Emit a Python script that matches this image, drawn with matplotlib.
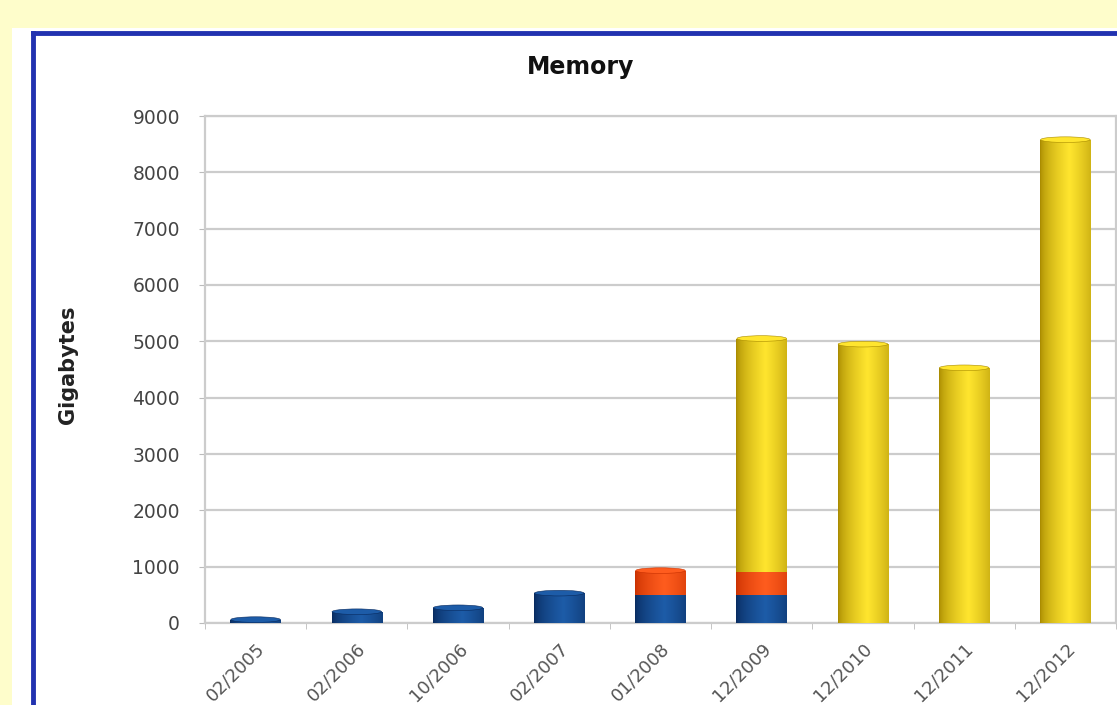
import numpy as np
import matplotlib
matplotlib.use('Agg')
import matplotlib.pyplot as plt
from matplotlib.patches import Rectangle, Ellipse
from matplotlib.colors import to_rgb
from matplotlib.transforms import ScaledTranslation

dates = ['02/2005', '02/2006', '10/2006', '02/2007', '01/2008',
         '12/2009', '12/2010', '12/2011', '12/2012']
blue_vals = [60, 200, 270, 530, 490, 490, 0, 0, 0]
orange_vals = [0, 0, 0, 0, 440, 410, 0, 0, 0]
yellow_vals = [0, 0, 0, 0, 0, 4150, 4950, 4530, 8580]
yticks = [0, 1000, 2000, 3000, 4000, 5000, 6000, 7000, 8000, 9000]

# edge / centre colours for the cylinder shading
shades = {
    'blue': ('#082a5e', '#1d5ca8'),
    'orange': ('#c83000', '#ff5c1e'),
    'yellow': ('#a88a00', '#ffe52e'),
}


def gradient(dark, light, n=64):
    d = np.array(to_rgb(dark))
    l = np.array(to_rgb(light))
    t = np.linspace(0, 1, n)
    # brightest a bit right of centre, dark at both edges
    w = np.clip(1 - np.abs(t - 0.58) / 0.58, 0, 1) ** 0.6
    return (d[None, :] * (1 - w[:, None]) + l[None, :] * w[:, None])[None, :, :]


fig = plt.figure(figsize=(11.17, 7.05), dpi=100)
fig.patch.set_facecolor('#fefdcb')

# white panel with blue frame
fig.add_artist(Rectangle((12 / 1117, 0), 1, 1 - 28 / 705, transform=fig.transFigure,
                         facecolor='white', edgecolor='none', zorder=-5))
fig.add_artist(plt.Line2D([33 / 1117, 33 / 1117], [0, 1 - 33 / 705], transform=fig.transFigure,
                          color='#2232b0', linewidth=3.5, zorder=-4))
fig.add_artist(plt.Line2D([33 / 1117, 1], [1 - 33 / 705, 1 - 33 / 705], transform=fig.transFigure,
                          color='#2232b0', linewidth=3.5, zorder=-4))

ax = fig.add_axes([205 / 1117, 1 - 623 / 705, (1116 - 205) / 1117, (623 - 116) / 705])
ax.set_zorder(1)
ax.set_facecolor('white')

x = np.arange(len(dates))
width = 0.5
blue = np.array(blue_vals)
orange = np.array(orange_vals)
yellow = np.array(yellow_vals)

layers = [
    ('blue', blue, np.zeros(len(x))),
    ('orange', orange, blue),
    ('yellow', yellow, blue + orange),
]

for name, vals, bottom in layers:
    dark, light = shades[name]
    bars = ax.bar(x, vals, width, bottom=bottom, color=light, edgecolor='none', zorder=2)
    grad = gradient(dark, light)
    for p in bars.patches:
        if p.get_height() <= 0:
            continue
        im = ax.imshow(grad, extent=(p.get_x(), p.get_x() + p.get_width(),
                                     p.get_y(), p.get_y() + p.get_height()),
                       aspect='auto', zorder=3, interpolation='bilinear')
        im.set_clip_path(p)

# top caps of each stack
tops = blue + orange + yellow
top_layer = np.where(yellow > 0, 'yellow', np.where(orange > 0, 'orange', 'blue'))
for xi, t, name in zip(x, tops, top_layer):
    dark, light = shades[name]
    ax.add_patch(Ellipse((xi, t), width * 0.98, 100, facecolor=light, edgecolor=dark,
                         linewidth=0.4, zorder=4))

ax.set_xlim(-0.5, len(dates) - 0.5)
ax.set_ylim(0, 9000)
ax.set_yticks(yticks)
ax.set_yticklabels([str(v) for v in yticks], fontsize=13.5, color='#444444')
# labels sit a little below their gridlines in the original
for lbl in ax.get_yticklabels():
    lbl.set_transform(lbl.get_transform() + ScaledTranslation(0, -6 / 100, fig.dpi_scale_trans))
ax.set_xticks(x)
ax.set_xticklabels(dates, rotation=45, ha='right', rotation_mode='anchor',
                   fontsize=13, color='#555555')
ax.set_xticks(np.arange(-0.5, len(dates), 1), minor=True)
ax.tick_params(axis='x', which='major', length=0, pad=12)
ax.tick_params(axis='x', which='minor', length=4, color='#bbbbbb')
ax.tick_params(axis='y', length=4, color='#bbbbbb', pad=14)

ax.yaxis.grid(True, color='#cccccc', linewidth=1.6)
ax.set_axisbelow(True)
for side in ['left', 'right', 'top', 'bottom']:
    ax.spines[side].set_color('#cccccc')
    ax.spines[side].set_linewidth(1.6)

fig.text(581 / 1117, 1 - 67 / 705, 'Memory', ha='center', va='center',
         fontsize=17, fontweight='bold', color='#111111')
fig.text(68 / 1117, 1 - 365 / 705, 'Gigabytes', ha='center', va='center',
         rotation=90, fontsize=15, fontweight='bold', color='#222222')

fig.savefig('out.png', dpi=100, facecolor=fig.get_facecolor())
